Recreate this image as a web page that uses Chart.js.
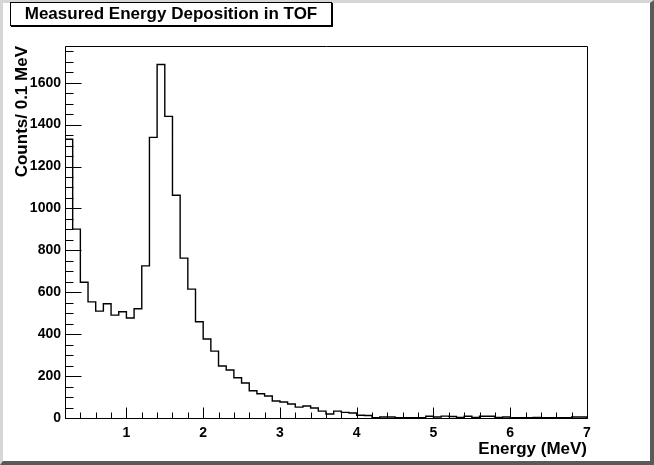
<!DOCTYPE html>
<html><head><meta charset="utf-8">
<script src="https://cdn.jsdelivr.net/npm/chart.js@4.4.1/dist/chart.umd.min.js"></script>
<style>
html,body{margin:0;padding:0;background:#fff;}
#wrap{position:relative;width:654px;height:465px;overflow:hidden;background:#fff;}
#c{position:absolute;left:0;top:0;}
#bevel{position:absolute;left:0;top:0;width:654px;height:465px;box-sizing:border-box;border-left:3px solid #d6d6d6;border-top:3px solid #d6d6d6;border-right:4px solid #5a5a5a;border-bottom:4px solid #5a5a5a;pointer-events:none;}
#title{position:absolute;left:10px;top:2px;width:322px;height:24px;box-sizing:border-box;border:1px solid #000;box-shadow:1px 1px 0 #000;background:#fff;font:bold 17px "Liberation Sans",Arial,sans-serif;line-height:22px;text-align:center;white-space:nowrap;color:#000;}
</style></head>
<body><div id="wrap"><canvas id="c" width="654" height="465"></canvas><div id="bevel"></div><div id="title">Measured Energy Deposition in TOF</div></div>
<script>
// Bin lower edges (MeV), bin width 0.1 MeV
const binLowEdges = [0.2,0.3,0.4,0.5,0.6,0.7,0.8,0.9,
  1.0,1.1,1.2,1.3,1.4,1.5,1.6,1.7,1.8,1.9,
  2.0,2.1,2.2,2.3,2.4,2.5,2.6,2.7,2.8,2.9,
  3.0,3.1,3.2,3.3,3.4,3.5,3.6,3.7,3.8,3.9,
  4.0,4.1,4.2,4.3,4.4,4.5,4.6,4.7,4.8,4.9,
  5.0,5.1,5.2,5.3,5.4,5.5,5.6,5.7,5.8,5.9,
  6.0,6.1,6.2,6.3,6.4,6.5,6.6,6.7,6.8,6.9];
const binUpperEdge = 7.0;
// Counts per 0.1 MeV bin
const counts = [1330,901,648,554,510,545,491,507,
  477,521,726,1339,1687,1439,1063,763,615,459,
  377,319,248,229,192,167,130,116,105,81,
  76,67,52,57,48,33,19,33,27,24,
  13,12,2,5,5,1,1,2,1,8,
  5,9,7,3,8,3,8,8,3,5,
  1,2,1,3,1,1,1,1,5,5];
const xTickLabels = [1,2,3,4,5,6,7];
const yTickLabels = [0,200,400,600,800,1000,1200,1400,1600];
const xTitle = 'Energy (MeV)';
const yTitle = 'Counts/ 0.1 MeV';
const yMax = 1775;

const points = [{x: binLowEdges[0], y: 0}];
binLowEdges.forEach((e, i) => points.push({x: e, y: counts[i]}));
points.push({x: binUpperEdge, y: counts[counts.length - 1]});
points.push({x: binUpperEdge, y: 0});

const FONT = '"Liberation Sans", Arial, sans-serif';

const rootFrame = {
  id: 'rootFrame',
  afterDatasetsDraw(chart) {
    const {ctx, chartArea: a, scales: {x, y}} = chart;
    ctx.save();
    ctx.strokeStyle = '#000';
    ctx.lineWidth = 1;
    ctx.beginPath();
    const L = Math.round(a.left) + 0.5, T = Math.round(a.top) + 0.5;
    const R = Math.round(a.right) + 0.5, B = Math.round(a.bottom) + 0.5;
    ctx.rect(L, T, R - L, B - T);
    for (let i = 2; i <= 70; i += 2) {
      const px = Math.round(x.getPixelForValue(i / 10)) + 0.5;
      const len = (i % 10 === 0) ? 11 : 6;
      ctx.moveTo(px, B);
      ctx.lineTo(px, B - len);
    }
    for (let v = 0; v <= yMax; v += 50) {
      const py = Math.round(y.getPixelForValue(v)) + 0.5;
      const len = (v % 200 === 0) ? 16 : 8;
      ctx.moveTo(L, py);
      ctx.lineTo(L + len, py);
    }
    ctx.stroke();
    ctx.restore();
  }
};

new Chart(document.getElementById('c').getContext('2d'), {
  type: 'line',
  data: {datasets: [{
    data: points, stepped: true, borderColor: '#000', borderWidth: 1.4,
    pointRadius: 0, fill: false, tension: 0
  }]},
  options: {
    responsive: false, animation: false, devicePixelRatio: 1,
    layout: {padding: {top: 46, right: 67, left: 0, bottom: 0}},
    plugins: {legend: {display: false}, tooltip: {enabled: false}},
    scales: {
      x: {
        type: 'linear', min: 0.2, max: 7.0,
        grid: {display: false, drawTicks: false}, border: {display: false},
        afterBuildTicks: s => { s.ticks = xTickLabels.map(v => ({value: v})); },
        ticks: {color: '#000', font: {family: FONT, size: 14, weight: 'bold'}, padding: 7, maxRotation: 0, autoSkip: false,
          callback: v => String(v)},
        title: {display: true, text: xTitle, align: 'end', color: '#000',
          font: {family: FONT, size: 17, weight: 'bold'}, padding: {top: 0, bottom: 5}},
        afterFit: s => { s.height = 47; }
      },
      y: {
        type: 'linear', min: 0, max: yMax,
        grid: {display: false, drawTicks: false}, border: {display: false},
        afterBuildTicks: s => { s.ticks = yTickLabels.map(v => ({value: v})); },
        ticks: {color: '#000', font: {family: FONT, size: 14, weight: 'bold'}, padding: 4, autoSkip: false,
          callback: v => String(v)},
        title: {display: true, text: yTitle, align: 'end', color: '#000',
          font: {family: FONT, size: 17, weight: 'bold'}, padding: {top: 12, bottom: 0}},
        afterFit: s => { s.width = 65; }
      }
    }
  },
  plugins: [rootFrame]
});
</script>
</body></html>
